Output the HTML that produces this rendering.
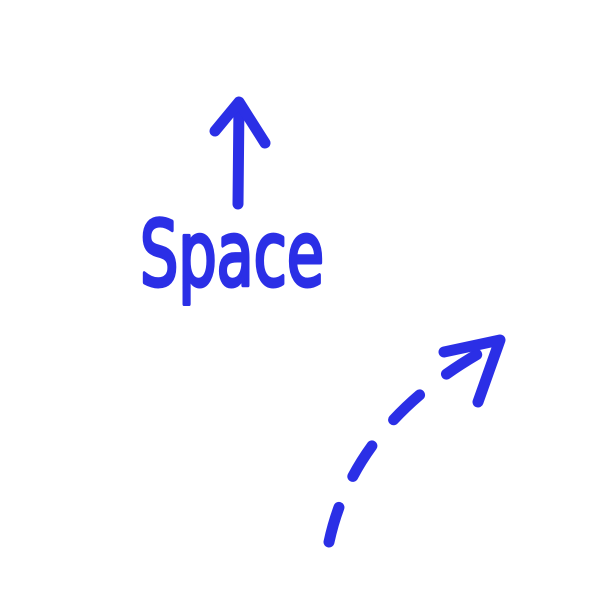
<!DOCTYPE html>
<html>
<head>
<meta charset="utf-8">
<style>
  html, body { margin: 0; padding: 0; background: #ffffff; }
  svg { display: block; }
</style>
</head>
<body>
<svg width="600" height="600" viewBox="0 0 600 600">
  <rect x="0" y="0" width="600" height="600" fill="#ffffff"/>
  <g stroke="#2b2fe6" stroke-width="11" stroke-linecap="round" stroke-linejoin="round" fill="none">
    <path d="M238,204 L239,103"/>
    <path d="M215,131 L239,102 L265,143"/>
  </g>
  <text x="140" y="285" textLength="184" lengthAdjust="spacingAndGlyphs"
        font-family="'DejaVu Sans', 'Liberation Sans', sans-serif" font-size="90" font-weight="normal"
        fill="#2b2fe6" stroke="#2b2fe6" stroke-width="4" stroke-linejoin="round"
       >Space</text>
  <g stroke="#2b2fe6" stroke-width="11" stroke-linecap="round" stroke-linejoin="round" fill="none">
    <path d="M329,542 Q355,420 492,346" stroke-dasharray="36 34"/>
    <path d="M444,352 L500,340 L478,402"/>
  </g>
</svg>
</body>
</html>
